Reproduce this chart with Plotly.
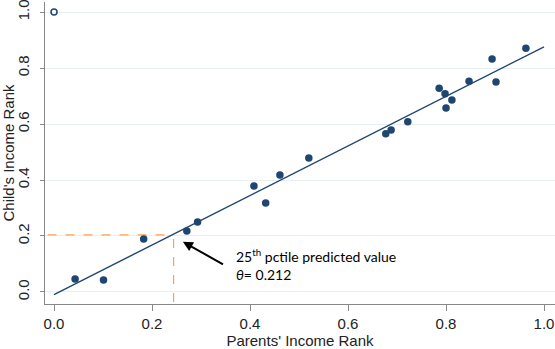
import plotly.graph_objects as go

# Data
parent_rank = [0.043, 0.101, 0.183, 0.271, 0.293, 0.408, 0.432, 0.461, 0.520,
               0.677, 0.688, 0.722, 0.786, 0.798, 0.800, 0.812, 0.847, 0.894,
               0.902, 0.963]
child_rank = [0.046, 0.043, 0.189, 0.218, 0.250, 0.379, 0.318, 0.418, 0.479,
              0.565, 0.579, 0.608, 0.728, 0.708, 0.657, 0.686, 0.753, 0.832,
              0.750, 0.871]
outlier_x = [0.0]
outlier_y = [1.0]
fit_x = [0.0, 1.0]
fit_intercept = -0.0093
fit_slope = 0.885
fit_y = [fit_intercept + fit_slope * v for v in fit_x]
guide_x = 0.244   # where the dashed guides meet, as drawn
guide_y = 0.204
theta = 0.212
tick_vals = [0.0, 0.2, 0.4, 0.6, 0.8, 1.0]
tick_text = ["0.0", "0.2", "0.4", "0.6", "0.8", "1.0"]

navy = "#1f4670"
orange = "#f5a25d"

fig = go.Figure()
fig.add_trace(go.Scatter(x=fit_x, y=fit_y, mode="lines",
                         line=dict(color=navy, width=1.4), hoverinfo="skip"))
fig.add_trace(go.Scatter(x=[-0.05, guide_x], y=[guide_y, guide_y], mode="lines",
                         line=dict(color=orange, width=1.2, dash="dash"), hoverinfo="skip"))
fig.add_trace(go.Scatter(x=[guide_x, guide_x], y=[-0.1, guide_y], mode="lines",
                         line=dict(color=orange, width=1.2, dash="dash"), hoverinfo="skip"))
fig.add_trace(go.Scatter(x=parent_rank, y=child_rank, mode="markers",
                         marker=dict(color=navy, size=7.5)))
fig.add_trace(go.Scatter(x=outlier_x, y=outlier_y, mode="markers",
                         marker=dict(color=navy, size=6, symbol="circle-open",
                                     line=dict(width=1.5, color=navy))))

fig.add_annotation(x=0.263, y=0.179, ax=0.351, ay=0.093, xref="x", yref="y",
                   axref="x", ayref="y", showarrow=True, arrowhead=2,
                   arrowsize=1, arrowwidth=2, arrowcolor="black", text=" ")
fig.add_annotation(x=0.367, y=0.129, xref="x", yref="y", showarrow=False,
                   xanchor="left", yanchor="middle",
                   text="25<sup>th</sup> pctile predicted value",
                   font=dict(family="Lato", size=14, color="black"))
fig.add_annotation(x=0.367, y=0.064, xref="x", yref="y", showarrow=False,
                   xanchor="left", yanchor="middle",
                   text="<i>θ</i>= %.3f" % theta,
                   font=dict(family="Lato", size=14, color="black"))

fig.update_layout(
    width=555, height=349,
    margin=dict(l=45, r=0, t=2, b=45, autoexpand=False),
    plot_bgcolor="white", paper_bgcolor="white",
    showlegend=False,
    font=dict(family="Liberation Sans", color="#222222"),
)
fig.update_xaxes(range=[-0.0184, 1.0224], tickvals=tick_vals, ticktext=tick_text,
                 showgrid=False, zeroline=False, showline=True, linecolor="#888888",
                 linewidth=1.2, ticks="outside", ticklen=6, tickcolor="#888888",
                 automargin=False, ticklabelstandoff=0, ticklabeloverflow="allow",
                 tickfont=dict(size=15), title=dict(text="Parents' Income Rank",
                 font=dict(size=15), standoff=5))
fig.update_yaxes(range=[-0.043, 1.036], tickvals=tick_vals, ticktext=tick_text,
                 showgrid=True, gridcolor="#e6eff2", gridwidth=1, zeroline=False,
                 showline=True, linecolor="#888888", linewidth=1.2, ticks="outside",
                 ticklen=4, tickcolor="#888888", tickangle=-90, automargin=False,
                 ticklabelstandoff=5, ticklabeloverflow="allow",
                 tickfont=dict(size=15), title=dict(text="Child's Income Rank",
                 font=dict(size=15), standoff=3))

fig.write_html("out.html", config={"displayModeBar": False},
               post_script="document.body.style.margin='0';")
